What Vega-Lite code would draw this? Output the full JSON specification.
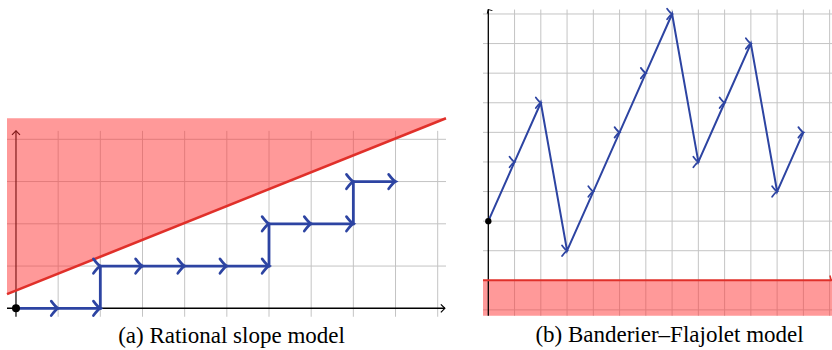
{
  "$schema": "https://vega.github.io/schema/vega-lite/v6.json",
  "padding": {"left": 1, "top": 5, "right": 0, "bottom": 0},
  "background": "white",
  "config": {"view": {"stroke": null}},
  "bounds": "flush",
  "spacing": 37,
  "resolve": {"scale": {"x": "independent", "y": "independent"}},
  "datasets": {
    "pathA": [
      {"i": 0, "x": 0, "y": 0, "dir": "S"},
      {"i": 1, "x": 1, "y": 0, "dir": "E"},
      {"i": 2, "x": 2, "y": 0, "dir": "E"},
      {"i": 3, "x": 2, "y": 1, "dir": "N"},
      {"i": 4, "x": 3, "y": 1, "dir": "E"},
      {"i": 5, "x": 4, "y": 1, "dir": "E"},
      {"i": 6, "x": 5, "y": 1, "dir": "E"},
      {"i": 7, "x": 6, "y": 1, "dir": "E"},
      {"i": 8, "x": 6, "y": 2, "dir": "N"},
      {"i": 9, "x": 7, "y": 2, "dir": "E"},
      {"i": 10, "x": 8, "y": 2, "dir": "E"},
      {"i": 11, "x": 8, "y": 3, "dir": "N"},
      {"i": 12, "x": 9, "y": 3, "dir": "E"}
    ],
    "pathB": [
      {"i": 0, "x": 0, "y": 2, "dir": "S"},
      {"i": 1, "x": 1, "y": 4, "dir": "U"},
      {"i": 2, "x": 2, "y": 6, "dir": "U"},
      {"i": 3, "x": 3, "y": 1, "dir": "D"},
      {"i": 4, "x": 4, "y": 3, "dir": "U"},
      {"i": 5, "x": 5, "y": 5, "dir": "U"},
      {"i": 6, "x": 6, "y": 7, "dir": "U"},
      {"i": 7, "x": 7, "y": 9, "dir": "U"},
      {"i": 8, "x": 8, "y": 4, "dir": "D"},
      {"i": 9, "x": 9, "y": 6, "dir": "U"},
      {"i": 10, "x": 10, "y": 8, "dir": "U"},
      {"i": 11, "x": 11, "y": 3, "dir": "D"},
      {"i": 12, "x": 12, "y": 5, "dir": "U"}
    ],
    "slopeA": [
      {"x": -0.213, "lo": 0.335, "hi": 4.5},
      {"x": 10.197, "lo": 4.5, "hi": 4.5}
    ],
    "gridAx": [{"x": 1}, {"x": 2}, {"x": 3}, {"x": 4}, {"x": 5}, {"x": 6}, {"x": 7}, {"x": 8}, {"x": 9}, {"x": 10}],
    "gridAy": [{"y": 1}, {"y": 2}, {"y": 3}, {"y": 4}],
    "gridBx": [{"x": 1}, {"x": 2}, {"x": 3}, {"x": 4}, {"x": 5}, {"x": 6}, {"x": 7}, {"x": 8}, {"x": 9}, {"x": 10}, {"x": 11}, {"x": 12}, {"x": 13}],
    "gridBy": [{"y": -1}, {"y": 1}, {"y": 2}, {"y": 3}, {"y": 4}, {"y": 5}, {"y": 6}, {"y": 7}, {"y": 8}, {"y": 9}],
    "tipsA": [{"x": 10.17, "y": 0, "dir": "E"}, {"x": 0, "y": 4.2, "dir": "N"}],
    "tipsB": [{"x": 0, "y": 9.15, "dir": "N"}],
    "tipsBred": [{"x": 13.06, "y": 0, "dir": "E"}],
    "shadeB": [{"x1": -0.202, "x2": 13.09, "y1": -1.2, "y2": 0}]
  },
  "hconcat": [
    {
      "width": 439,
      "height": 308,
      "title": {"text": "(a) Rational slope model", "orient": "bottom", "font": "Liberation Serif", "fontSize": 23, "fontWeight": "normal", "color": "black", "anchor": "middle", "baseline": "alphabetic", "offset": 22, "dx": 5},
      "layer": [
        {
          "data": {"name": "gridAx"},
          "mark": {"type": "rule", "color": "#c4c4c4", "strokeWidth": 1},
          "encoding": {
            "x": {"field": "x", "type": "quantitative", "scale": {"domain": [-0.213, 10.197], "nice": false, "zero": false}, "axis": null},
            "y": {"datum": -0.2, "type": "quantitative", "scale": {"domain": [-0.182, 7.108], "nice": false, "zero": false}, "axis": null},
            "y2": {"datum": 4.2}
          }
        },
        {
          "data": {"name": "gridAy"},
          "mark": {"type": "rule", "color": "#c4c4c4", "strokeWidth": 1},
          "encoding": {
            "y": {"field": "y", "type": "quantitative"},
            "x": {"datum": -0.213, "type": "quantitative"},
            "x2": {"datum": 10.197}
          }
        },
        {
          "data": {"values": [{"x": 0, "a": -0.2, "b": 4.2}]},
          "mark": {"type": "rule", "color": "black", "strokeWidth": 1.2},
          "encoding": {
            "x": {"field": "x", "type": "quantitative"},
            "y": {"field": "a", "type": "quantitative"},
            "y2": {"field": "b"}
          }
        },
        {
          "data": {"values": [{"y": 0, "a": -0.213, "b": 10.17}]},
          "mark": {"type": "rule", "color": "black", "strokeWidth": 1.5},
          "encoding": {
            "y": {"field": "y", "type": "quantitative"},
            "x": {"field": "a", "type": "quantitative"},
            "x2": {"field": "b"}
          }
        },
        {
          "data": {"name": "tipsA"},
          "mark": {"type": "point", "shape": "M-1,-1L0,0L-1,1", "filled": false, "stroke": "black", "strokeWidth": 1.2, "size": 64, "opacity": 1},
          "encoding": {
            "x": {"field": "x", "type": "quantitative"},
            "y": {"field": "y", "type": "quantitative"},
            "angle": {"field": "dir", "type": "nominal", "scale": {"type": "ordinal", "domain": ["E", "N", "U", "D"], "range": [0, 270, 294, 80]}, "legend": null}
          }
        },
        {
          "data": {"name": "slopeA"},
          "mark": {"type": "area", "color": "#ff3333", "opacity": 0.5},
          "encoding": {
            "x": {"field": "x", "type": "quantitative"},
            "y": {"field": "lo", "type": "quantitative"},
            "y2": {"field": "hi"}
          }
        },
        {
          "data": {"name": "slopeA"},
          "mark": {"type": "line", "color": "#e0302a", "strokeWidth": 2.6},
          "encoding": {
            "x": {"field": "x", "type": "quantitative"},
            "y": {"field": "lo", "type": "quantitative"}
          }
        },
        {
          "data": {"name": "pathA"},
          "mark": {"type": "line", "color": "#2d44a2", "strokeWidth": 2.8},
          "encoding": {
            "x": {"field": "x", "type": "quantitative"},
            "y": {"field": "y", "type": "quantitative"},
            "order": {"field": "i", "type": "quantitative"}
          }
        },
        {
          "data": {"name": "pathA"},
          "transform": [{"filter": "datum.dir != 'S'"}],
          "mark": {"type": "point", "shape": "M-1,-1.05C-0.55,-0.45 -0.2,-0.1 0,0C-0.2,0.1 -0.55,0.45 -1,1.05", "filled": false, "stroke": "#2d44a2", "strokeWidth": 2.7, "strokeCap": "round", "size": 190, "opacity": 1},
          "encoding": {
            "x": {"field": "x", "type": "quantitative"},
            "y": {"field": "y", "type": "quantitative"},
            "angle": {"field": "dir", "type": "nominal", "legend": null}
          }
        },
        {
          "data": {"values": [{"x": 0, "y": 0}]},
          "mark": {"type": "circle", "color": "black", "size": 64, "opacity": 1},
          "encoding": {
            "x": {"field": "x", "type": "quantitative"},
            "y": {"field": "y", "type": "quantitative"}
          }
        }
      ]
    },
    {
      "width": 349,
      "height": 308,
      "title": {"text": "(b) Banderier–Flajolet model", "orient": "bottom", "font": "Liberation Serif", "fontSize": 23, "fontWeight": "normal", "color": "black", "anchor": "middle", "baseline": "alphabetic", "offset": 26, "dx": 12},
      "layer": [
        {
          "data": {"name": "gridBx"},
          "mark": {"type": "rule", "color": "#c4c4c4", "strokeWidth": 1},
          "encoding": {
            "x": {"field": "x", "type": "quantitative", "scale": {"domain": [-0.202, 13.09], "nice": false, "zero": false}, "axis": null},
            "y": {"datum": -1.2, "type": "quantitative", "scale": {"domain": [-1.206, 9.202], "nice": false, "zero": false}, "axis": null},
            "y2": {"datum": 9.15}
          }
        },
        {
          "data": {"name": "gridBy"},
          "mark": {"type": "rule", "color": "#c4c4c4", "strokeWidth": 1},
          "encoding": {
            "y": {"field": "y", "type": "quantitative"},
            "x": {"datum": -0.202, "type": "quantitative"},
            "x2": {"datum": 13.09}
          }
        },
        {
          "data": {"name": "shadeB"},
          "mark": {"type": "rect", "color": "#ff3333", "opacity": 0.5},
          "encoding": {
            "x": {"field": "x1", "type": "quantitative"},
            "x2": {"field": "x2"},
            "y": {"field": "y1", "type": "quantitative"},
            "y2": {"field": "y2"}
          }
        },
        {
          "data": {"values": [{"x": 0, "a": -1.2, "b": 9.15}]},
          "mark": {"type": "rule", "color": "black", "strokeWidth": 1.3},
          "encoding": {
            "x": {"field": "x", "type": "quantitative"},
            "y": {"field": "a", "type": "quantitative"},
            "y2": {"field": "b"}
          }
        },
        {
          "data": {"name": "tipsB"},
          "mark": {"type": "point", "shape": "M-1,-1L0,0L-1,1", "filled": false, "stroke": "black", "strokeWidth": 1, "size": 36, "opacity": 1},
          "encoding": {
            "x": {"field": "x", "type": "quantitative"},
            "y": {"field": "y", "type": "quantitative"},
            "angle": {"field": "dir", "type": "nominal", "legend": null}
          }
        },
        {
          "data": {"values": [{"y": 0, "a": -0.202, "b": 13.06}]},
          "mark": {"type": "rule", "color": "#e0302a", "strokeWidth": 2},
          "encoding": {
            "y": {"field": "y", "type": "quantitative"},
            "x": {"field": "a", "type": "quantitative"},
            "x2": {"field": "b"}
          }
        },
        {
          "data": {"name": "tipsBred"},
          "mark": {"type": "point", "shape": "M-1,-1L0,0L-1,1", "filled": false, "stroke": "#e0302a", "strokeWidth": 1.5, "size": 50, "opacity": 1},
          "encoding": {
            "x": {"field": "x", "type": "quantitative"},
            "y": {"field": "y", "type": "quantitative"},
            "angle": {"field": "dir", "type": "nominal", "legend": null}
          }
        },
        {
          "data": {"name": "pathB"},
          "mark": {"type": "line", "color": "#2d44a2", "strokeWidth": 2},
          "encoding": {
            "x": {"field": "x", "type": "quantitative"},
            "y": {"field": "y", "type": "quantitative"},
            "order": {"field": "i", "type": "quantitative"}
          }
        },
        {
          "data": {"name": "pathB"},
          "transform": [{"filter": "datum.dir != 'S'"}],
          "mark": {"type": "point", "shape": "M-1,-1.05C-0.55,-0.45 -0.2,-0.1 0,0C-0.2,0.1 -0.55,0.45 -1,1.05", "filled": false, "stroke": "#2d44a2", "strokeWidth": 1.8, "strokeCap": "round", "size": 100, "opacity": 1},
          "encoding": {
            "x": {"field": "x", "type": "quantitative"},
            "y": {"field": "y", "type": "quantitative"},
            "angle": {"field": "dir", "type": "nominal", "legend": null}
          }
        },
        {
          "data": {"values": [{"x": 0, "y": 2}]},
          "mark": {"type": "circle", "color": "black", "size": 40, "opacity": 1},
          "encoding": {
            "x": {"field": "x", "type": "quantitative"},
            "y": {"field": "y", "type": "quantitative"}
          }
        }
      ]
    }
  ]
}
